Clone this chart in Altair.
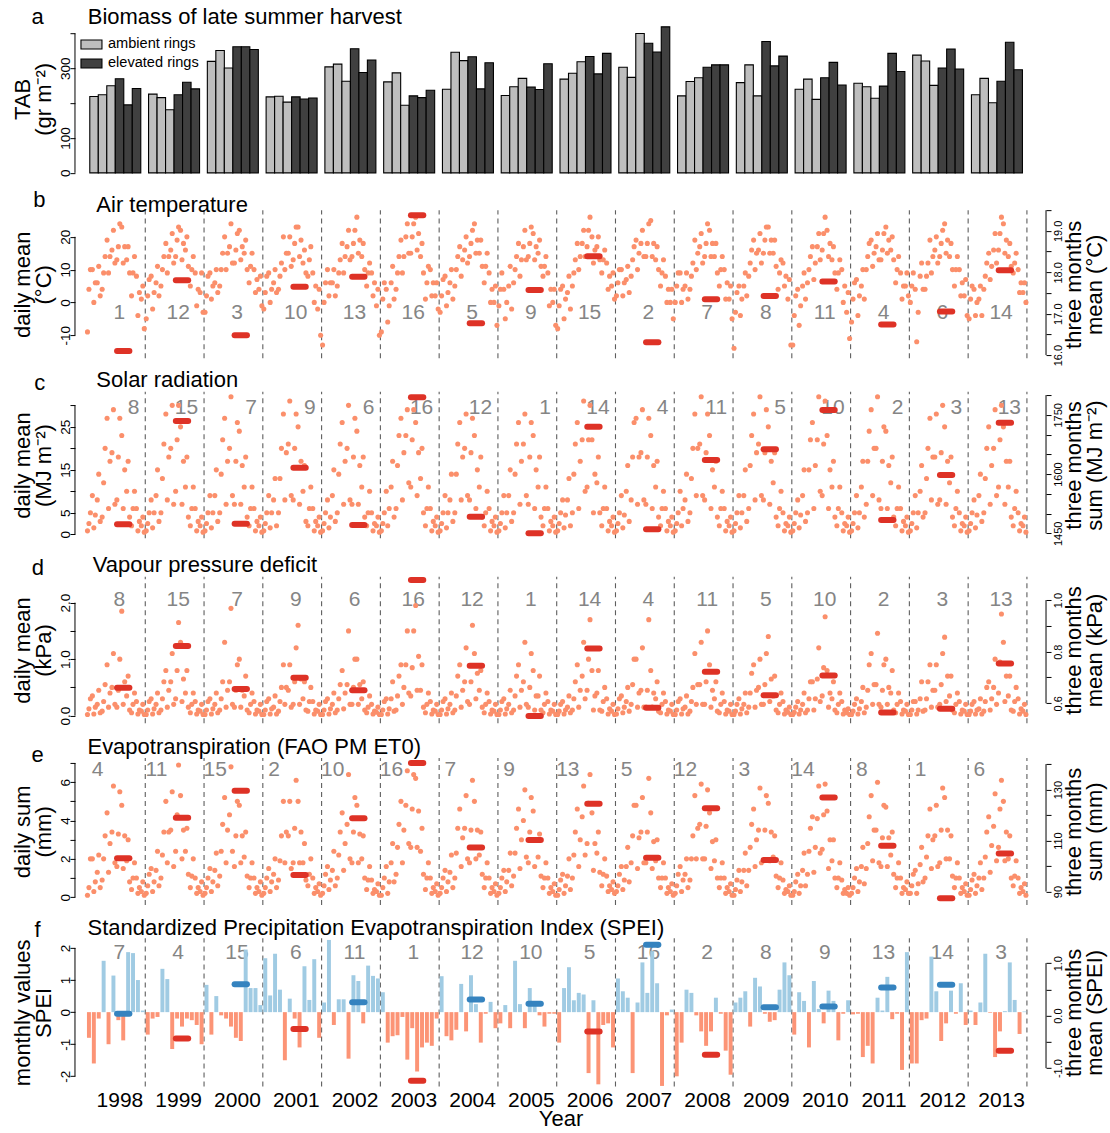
import altair as alt
import pandas as pd

FONT = "Liberation Sans"
SALMON = "#FB8F6B"
RED = "#DE3226"
BLUE = "#3583BF"
SPEI_POS = "#A0CBE3"
SPEI_NEG = "#FC9476"
RANK_GREY = "#858585"
DASH_GREY = "#5E5E5E"

YEARS = list(range(1998, 2014))

# ---------------- (a) total above-ground biomass, three rings per treatment
tab_ambient = [
    [219, 224, 250], [226, 216, 181], [320, 351, 301], [218, 220, 203],
    [304, 312, 263], [261, 287, 194], [240, 346, 322], [222, 247, 271],
    [269, 286, 319], [303, 274, 400], [221, 262, 273], [259, 310, 221],
    [240, 269, 211], [257, 247, 214], [338, 321, 251], [224, 271, 201],
]
tab_elevated = [
    [270, 195, 242], [224, 260, 241], [362, 362, 354], [218, 212, 215],
    [356, 288, 324], [221, 216, 237], [333, 241, 316], [246, 239, 313],
    [334, 284, 343], [372, 347, 419], [303, 310, 310], [377, 307, 335],
    [273, 317, 252], [249, 343, 291], [301, 355, 298], [263, 375, 296],
]

# ---------------- (b) air temperature: monthly low / mid / high of the daily means
temp_low = [
    [-9, 0, 2, 4, 9, 12, 13, 12, 9, 2, -4, -8],
    [-5, -2, 2, 5, 9, 12, 14, 13, 11, 5, -1, -3],
    [-3, 1, 3, 5, 10, 12, 12, 13, 10, 6, 3, -1],
    [-2, 0, 3, 4, 10, 11, 13, 14, 9, 8, 0, -10],
    [-13, 2, 2, 5, 9, 13, 14, 15, 10, 5, 2, -10],
    [-9, -6, 1, 4, 9, 15, 15, 16, 9, 1, 2, -2],
    [-3, -1, 1, 5, 8, 12, 14, 15, 11, 6, 0, -7],
    [-1, -5, -2, 6, 8, 13, 14, 13, 11, 8, -1, -7],
    [-8, -5, -2, 5, 10, 14, 17, 12, 13, 9, 4, 1],
    [2, 2, 3, 8, 10, 14, 14, 14, 10, 5, 0, -5],
    [0, 0, 1, 4, 10, 12, 14, 14, 9, 5, 1, -5],
    [-14, -4, 2, 8, 10, 12, 15, 15, 11, 4, 5, -13],
    [-13, -7, 1, 6, 7, 13, 16, 14, 9, 4, 0, -11],
    [-6, -4, 1, 10, 11, 13, 13, 15, 13, 6, 1, 2],
    [0, -12, 4, 4, 9, 12, 14, 15, 10, 5, 2, -4],
    [-5, -4, -4, 4, 7, 12, 16, 15, 11, 9, 3, 0],
]
temp_mid = [
    [4, 6, 6, 9, 14, 16, 17, 17, 13, 9, 3, 1],
    [2, 3, 6, 10, 14, 16, 19, 18, 16, 10, 4, 3],
    [2, 5, 6, 10, 15, 17, 16, 17, 15, 11, 7, 4],
    [3, 4, 6, 8, 15, 15, 18, 19, 12, 13, 5, -2],
    [0, 6, 6, 9, 14, 17, 18, 19, 14, 9, 6, -1],
    [1, -1, 6, 9, 14, 20, 20, 21, 14, 6, 6, 2],
    [2, 3, 6, 10, 13, 16, 18, 19, 15, 11, 4, 0],
    [4, 0, 5, 10, 13, 17, 18, 17, 15, 11, 4, 0],
    [-1, 1, 3, 9, 14, 18, 22, 16, 17, 13, 8, 5],
    [6, 6, 7, 13, 15, 18, 18, 18, 13, 9, 4, 0],
    [5, 4, 5, 8, 15, 17, 18, 18, 14, 10, 6, 1],
    [-3, 1, 5, 12, 15, 16, 19, 19, 15, 9, 8, 1],
    [-4, -1, 5, 10, 12, 17, 21, 18, 13, 9, 5, -3],
    [1, 2, 5, 14, 15, 17, 16, 19, 16, 10, 5, 5],
    [5, -3, 8, 8, 14, 16, 18, 19, 14, 10, 6, 2],
    [1, 0, 1, 8, 11, 16, 21, 19, 14, 12, 6, 3],
]
temp_high = [
    [10, 10, 11, 14, 19, 22, 24, 23, 17, 14, 8, 5],
    [7, 8, 11, 14, 18, 21, 23, 22, 20, 14, 9, 9],
    [8, 9, 10, 15, 20, 24, 21, 22, 19, 15, 10, 8],
    [8, 9, 10, 12, 20, 20, 23, 23, 16, 17, 9, 4],
    [6, 10, 10, 13, 18, 22, 22, 26, 18, 12, 9, 4],
    [6, 4, 11, 14, 19, 24, 24, 26, 18, 11, 10, 6],
    [7, 8, 10, 14, 17, 20, 22, 24, 19, 15, 9, 5],
    [9, 4, 11, 14, 18, 22, 23, 21, 19, 14, 9, 4],
    [4, 5, 8, 13, 18, 22, 26, 20, 20, 16, 12, 9],
    [10, 10, 11, 17, 19, 22, 24, 25, 17, 13, 8, 4],
    [9, 9, 9, 12, 19, 21, 24, 22, 18, 14, 10, 5],
    [3, 5, 9, 16, 19, 21, 23, 23, 19, 13, 12, 7],
    [2, 4, 9, 14, 17, 21, 26, 22, 17, 13, 10, 3],
    [6, 7, 10, 18, 19, 21, 21, 23, 20, 14, 9, 9],
    [9, 4, 12, 12, 19, 20, 22, 24, 18, 14, 10, 7],
    [5, 4, 5, 12, 15, 21, 26, 24, 18, 15, 10, 6],
]
temp_3m = [16.10, 17.81, 16.48, 17.65, 17.89, 19.38, 16.77, 17.57,
           18.39, 16.31, 17.35, 17.43, 17.78, 16.74, 17.05, 18.05]
temp_rank = [1, 12, 3, 10, 13, 16, 5, 9, 15, 2, 7, 8, 11, 4, 6, 14]

# ---------------- (c) solar radiation
solar_low = [
    [0.8, 1.5, 3, 4, 6, 7, 8, 6, 4, 2, 0.8, 0.5],
    [0.8, 1.5, 3, 5, 8, 7, 10, 7, 4, 2, 0.8, 0.5],
    [0.8, 1.5, 3, 5, 7, 9, 7, 7, 4, 2, 0.8, 0.5],
    [0.8, 1.5, 2, 5, 8, 9, 8, 7, 3, 2, 0.8, 0.5],
    [0.8, 1.5, 3, 5, 7, 8, 7, 7, 4, 2, 0.8, 0.5],
    [0.8, 2, 4, 6, 8, 12, 11, 9, 5, 2, 0.8, 0.5],
    [0.8, 1.5, 3, 5, 8, 9, 8, 6, 4, 2, 0.8, 0.5],
    [0.8, 1.5, 3, 5, 7, 9, 7, 6, 4, 2, 0.8, 0.5],
    [0.8, 1.5, 2, 5, 6, 10, 11, 5, 5, 2, 0.8, 0.5],
    [0.8, 1.5, 3, 8, 7, 8, 7, 6, 4, 2, 0.8, 0.5],
    [0.8, 2, 3, 5, 9, 9, 8, 6, 4, 2, 0.8, 0.5],
    [0.8, 1.5, 3, 6, 8, 9, 8, 7, 4, 2, 0.8, 0.5],
    [0.8, 1.5, 3, 5, 6, 10, 9, 6, 4, 2, 0.8, 0.5],
    [0.8, 1.5, 4, 7, 9, 8, 6, 6, 4, 2, 0.8, 0.5],
    [0.8, 1.5, 4, 5, 8, 7, 8, 7, 4, 2, 0.8, 0.5],
    [0.8, 1.5, 3, 5, 7, 9, 11, 7, 4, 2, 0.8, 0.5],
]
solar_mid = [
    [2.5, 4.5, 8, 12, 17, 19, 18, 15, 10, 6, 3, 2],
    [2.5, 5, 9, 13, 18, 20, 22, 17, 11, 6, 3, 2],
    [2.5, 5, 9, 14, 17, 20, 17, 16, 11, 6, 3, 2],
    [2.5, 5, 8, 13, 19, 21, 20, 17, 10, 6, 3, 2],
    [2.5, 4, 9, 14, 17, 20, 18, 16, 11, 5, 2.5, 2],
    [2.5, 6, 11, 16, 19, 23, 22, 19, 13, 6, 3, 2],
    [2.5, 5, 8, 14, 18, 20, 19, 15, 11, 5, 3, 2],
    [2.5, 5, 9, 14, 17, 21, 18, 15, 11, 6, 3, 2],
    [2.5, 4.5, 8, 14, 17, 22, 22, 14, 12, 6, 3, 2],
    [2.5, 4.5, 10, 18, 18, 19, 18, 16, 11, 6, 3, 2],
    [2.5, 6, 8, 13, 20, 21, 19, 15, 11, 6, 3, 2],
    [2.5, 5, 9, 16, 19, 21, 19, 17, 12, 6, 2.5, 2],
    [2.5, 4.5, 9, 15, 16, 22, 21, 15, 11, 6, 2.5, 2],
    [2.5, 5, 11, 17, 20, 20, 17, 16, 12, 6, 3, 2],
    [2.5, 5, 10, 13, 18, 18, 19, 17, 12, 6, 2.5, 2],
    [2.5, 4.5, 9, 13, 16, 20, 22, 17, 11, 6, 2.5, 2],
]
solar_high = [
    [5, 9, 14, 20, 27, 29, 27, 23, 17, 10, 6, 4],
    [5, 8, 15, 21, 28, 30, 30, 25, 18, 11, 6, 4],
    [5, 9, 15, 22, 27, 32, 26, 24, 18, 11, 6, 4],
    [5, 9, 13, 20, 28, 31, 28, 25, 16, 11, 6, 4],
    [5, 8, 15, 21, 26, 30, 27, 24, 18, 10, 5, 4],
    [5, 10, 17, 23, 27, 29, 29, 26, 20, 11, 6, 4],
    [5, 9, 14, 21, 26, 28, 27, 23, 18, 10, 6, 4],
    [5, 9, 15, 21, 26, 28, 26, 23, 18, 11, 6, 4],
    [5, 8, 13, 21, 26, 31, 30, 22, 18, 11, 6, 4],
    [5, 9, 16, 26, 27, 29, 27, 23, 17, 10, 6, 4],
    [5, 10, 14, 20, 28, 32, 28, 23, 17, 10, 6, 4],
    [5, 9, 15, 23, 28, 32, 29, 25, 19, 10, 5, 4],
    [5, 8, 15, 22, 26, 32, 31, 23, 17, 11, 5, 4],
    [5, 9, 17, 24, 29, 32, 25, 24, 18, 11, 6, 4],
    [5, 9, 16, 20, 27, 28, 30, 25, 18, 10, 5, 4],
    [5, 8, 14, 20, 25, 29, 30, 25, 17, 10, 5, 4],
]
solar_3m = [1472.8, 1734.3, 1474.3, 1616, 1471, 1794.3, 1492, 1450,
            1720, 1460, 1635.6, 1662.6, 1762, 1483.7, 1597.6, 1730]
solar_rank = [8, 15, 7, 9, 6, 16, 12, 1, 14, 4, 11, 5, 10, 2, 3, 13]

# ---------------- (d) vapour pressure deficit
vpd_low = [
    [.02, .03, .05, .08, .15, .2, .15, .2, .1, .05, .03, .02],
    [.02, .03, .05, .1, .15, .2, .3, .25, .15, .05, .03, .02],
    [.02, .03, .05, .1, .15, .2, .15, .15, .1, .05, .03, .02],
    [.02, .03, .03, .08, .2, .15, .2, .2, .1, .08, .03, .02],
    [.02, .03, .05, .1, .12, .2, .2, .2, .1, .05, .03, .02],
    [.02, .03, .08, .1, .2, .4, .35, .45, .15, .05, .03, .02],
    [.02, .03, .05, .1, .15, .25, .2, .3, .15, .05, .03, .02],
    [.02, .03, .05, .1, .15, .2, .15, .1, .1, .05, .03, .02],
    [.02, .03, .05, .1, .15, .3, .45, .1, .1, .08, .03, .02],
    [.03, .05, .08, .2, .15, .15, .15, .15, .08, .05, .03, .02],
    [.02, .03, .03, .08, .2, .2, .2, .15, .08, .05, .03, .02],
    [.02, .03, .05, .15, .15, .2, .2, .25, .1, .05, .03, .02],
    [.02, .03, .05, .1, .1, .25, .35, .15, .1, .05, .03, .02],
    [.02, .03, .05, .15, .2, .2, .15, .2, .1, .05, .03, .02],
    [.02, .03, .08, .1, .15, .15, .2, .25, .1, .05, .03, .02],
    [.02, .03, .03, .08, .1, .2, .4, .25, .1, .08, .03, .02],
]
vpd_mid = [
    [.12, .15, .2, .25, .4, .5, .45, .6, .35, .2, .1, .08],
    [.1, .12, .2, .3, .45, .6, .8, .65, .4, .2, .1, .08],
    [.1, .12, .2, .3, .45, .6, .45, .45, .35, .2, .1, .08],
    [.1, .12, .15, .25, .5, .45, .6, .65, .3, .25, .1, .08],
    [.1, .12, .2, .3, .4, .55, .5, .55, .3, .15, .08, .06],
    [.1, .12, .3, .35, .5, .9, .85, 1.05, .45, .2, .1, .08],
    [.1, .12, .2, .35, .45, .6, .6, .75, .45, .2, .1, .08],
    [.1, .12, .2, .35, .45, .6, .5, .35, .35, .2, .1, .08],
    [.08, .1, .15, .3, .45, .7, 1.0, .35, .4, .25, .12, .08],
    [.12, .15, .25, .55, .4, .45, .45, .4, .3, .2, .1, .08],
    [.1, .12, .15, .25, .55, .55, .6, .45, .3, .2, .1, .08],
    [.08, .12, .2, .4, .45, .5, .55, .65, .35, .2, .1, .06],
    [.06, .1, .2, .3, .3, .65, .85, .4, .3, .2, .1, .05],
    [.08, .12, .25, .45, .55, .55, .45, .5, .4, .2, .1, .08],
    [.1, .1, .3, .3, .45, .45, .55, .7, .35, .2, .1, .08],
    [.08, .1, .12, .25, .3, .5, .95, .7, .35, .25, .12, .08],
]
vpd_high = [
    [.3, .35, .45, .55, .9, 1.1, 1.0, 1.85, .7, .4, .25, .2],
    [.25, .3, .4, .6, .8, 1.1, 1.65, 1.3, .8, .4, .25, .2],
    [.25, .3, .4, .6, 1.3, 1.9, .9, 1.0, .7, .4, .25, .2],
    [.25, .3, .35, .5, .9, .9, 1.2, 1.6, .6, .5, .25, .2],
    [.25, .3, .4, .55, .8, 1.5, 1.0, 1.0, .6, .35, .2, .15],
    [.25, .3, .6, .7, .9, 1.5, 1.5, 1.95, .9, .4, .25, .2],
    [.25, .3, .4, .7, .9, 1.2, 1.6, 1.1, .8, .4, .25, .2],
    [.25, .3, .45, .7, .9, 1.3, 1.1, .8, .7, .4, .25, .2],
    [.2, .25, .35, .6, .9, 1.3, 1.7, .8, .8, .5, .3, .2],
    [.3, .35, .5, 1.0, 1.0, 1.2, 1.7, .8, .6, .4, .25, .2],
    [.25, .3, .35, .5, 1.1, 1.3, 1.5, .9, .6, .4, .25, .2],
    [.2, .3, .4, .75, .9, 1.0, 1.1, 1.4, .7, .4, .25, .15],
    [.15, .25, .4, .6, .6, 1.2, 1.75, .8, .6, .4, .25, .12],
    [.2, .3, .5, .9, 1.1, 1.46, .9, 1.0, .8, .4, .25, .2],
    [.25, .25, .6, .6, .9, .9, 1.1, 1.39, .7, .4, .25, .2],
    [.2, .25, .3, .5, .6, 1.0, 1.8, 1.3, .7, .5, .3, .2],
]
vpd_3m = [0.660, 0.822, 0.655, 0.699, 0.650, 1.078, 0.745, 0.551,
          0.812, 0.583, 0.722, 0.631, 0.708, 0.564, 0.579, 0.754]
vpd_rank = [8, 15, 7, 9, 6, 16, 12, 1, 14, 4, 11, 5, 10, 2, 3, 13]

# ---------------- (e) reference evapotranspiration
et_low = [
    [.1, .3, .5, .9, 1.3, 1.8, 1.6, 1.5, .8, .4, .2, .1],
    [.2, .3, .6, 1.0, 1.8, 1.6, 2.4, 2.0, 1.2, .5, .2, .1],
    [.2, .3, .6, 1.1, 1.8, 2.4, 1.6, 1.8, 1.1, .5, .2, .1],
    [.2, .3, .5, .9, 1.8, 1.5, 1.8, 1.8, .9, .6, .2, .1],
    [.2, .4, .6, 1.0, 1.4, 2.0, 1.8, 1.8, 1.0, .4, .2, .1],
    [.1, .2, .8, 1.2, 1.8, 2.8, 2.6, 2.6, 1.2, .4, .2, .1],
    [.2, .3, .5, 1.0, 1.6, 2.0, 1.8, 2.0, 1.2, .5, .2, .1],
    [.2, .3, .6, 1.1, 1.5, 2.1, 1.8, 1.6, 1.1, .5, .2, .1],
    [.1, .2, .4, 1.0, 1.6, 2.2, 2.8, 1.4, 1.3, .6, .3, .2],
    [.3, .4, .8, 1.8, 1.5, 1.8, 1.8, 1.5, 1.0, .5, .2, .1],
    [.2, .3, .5, .9, 2.0, 2.0, 2.0, 1.5, 1.0, .5, .2, .1],
    [.1, .3, .6, 1.4, 1.6, 1.8, 1.9, 1.9, 1.1, .5, .2, .1],
    [.1, .2, .6, 1.2, 1.3, 2.3, 2.5, 1.5, 1.0, .5, .2, .1],
    [.2, .3, .7, 1.5, 1.9, 1.8, 1.6, 1.6, 1.2, .5, .2, .2],
    [.2, .2, .8, 1.0, 1.5, 1.6, 1.8, 2.0, 1.1, .5, .2, .1],
    [.1, .2, .4, 1.0, 1.3, 1.9, 2.6, 1.9, 1.0, .6, .2, .1],
]
et_mid = [
    [.5, .8, 1.3, 2.0, 2.8, 3.4, 3.3, 3.2, 1.9, 1.0, .5, .3],
    [.6, .8, 1.4, 2.2, 3.4, 3.5, 4.3, 3.5, 2.4, 1.1, .5, .3],
    [.5, .8, 1.4, 2.4, 3.5, 4.3, 3.2, 3.2, 2.1, 1.0, .5, .3],
    [.5, .8, 1.2, 1.9, 3.4, 3.2, 3.6, 3.4, 1.8, 1.2, .5, .3],
    [.6, .9, 1.4, 2.2, 2.8, 3.8, 3.4, 3.3, 2.0, .9, .4, .3],
    [.5, .8, 1.8, 2.6, 3.5, 4.8, 4.6, 4.5, 2.4, 1.0, .5, .3],
    [.5, .8, 1.3, 2.3, 3.1, 3.6, 3.5, 3.5, 2.2, 1.0, .5, .3],
    [.5, .8, 1.4, 2.3, 3.0, 4.0, 3.4, 3.0, 2.1, 1.0, .5, .3],
    [.4, .6, 1.1, 2.2, 3.0, 4.2, 4.9, 2.8, 2.3, 1.2, .6, .4],
    [.6, .9, 1.6, 3.2, 3.1, 3.4, 3.4, 2.9, 1.9, 1.0, .5, .3],
    [.6, .9, 1.2, 2.0, 3.6, 3.8, 3.7, 2.9, 1.9, 1.0, .5, .3],
    [.4, .8, 1.4, 2.6, 3.0, 3.5, 3.5, 3.4, 2.1, 1.0, .4, .3],
    [.3, .6, 1.4, 2.4, 2.6, 4.1, 4.3, 3.0, 1.9, 1.0, .4, .2],
    [.5, .8, 1.6, 2.8, 3.5, 3.5, 3.1, 3.1, 2.2, 1.0, .5, .4],
    [.6, .7, 1.7, 2.1, 3.0, 3.2, 3.5, 3.5, 2.0, 1.0, .5, .3],
    [.4, .6, 1.0, 2.1, 2.7, 3.7, 4.6, 3.4, 2.0, 1.1, .5, .3],
]
et_high = [
    [2.0, 2.0, 2.2, 3.2, 4.4, 5.8, 5.5, 4.8, 3.0, 1.8, 1.0, .8],
    [1.2, 1.5, 2.4, 3.4, 5.0, 5.5, 6.9, 5.3, 3.6, 2.0, 1.0, .8],
    [1.0, 1.5, 2.3, 3.8, 5.2, 6.8, 5.0, 4.8, 3.4, 1.8, 1.0, .8],
    [1.0, 1.5, 2.0, 3.2, 5.0, 5.0, 6.1, 5.0, 2.8, 2.0, 1.0, .7],
    [1.2, 1.6, 2.4, 3.4, 4.4, 6.4, 5.2, 4.8, 3.2, 1.6, .9, .7],
    [1.0, 1.6, 2.8, 3.8, 5.0, 6.6, 6.4, 6.2, 3.6, 1.8, 1.0, .7],
    [1.0, 1.4, 2.2, 3.6, 4.6, 5.3, 6.1, 5.0, 3.4, 1.8, 1.0, .7],
    [1.0, 1.4, 2.3, 3.6, 4.6, 5.6, 5.2, 4.5, 3.3, 1.8, 1.0, .7],
    [.9, 1.2, 2.0, 3.4, 4.6, 5.8, 6.4, 4.4, 3.4, 2.0, 1.1, .8],
    [1.2, 1.6, 2.6, 4.8, 4.8, 5.2, 6.2, 4.4, 3.0, 1.8, 1.0, .7],
    [1.2, 1.6, 2.0, 3.2, 5.3, 5.9, 5.6, 4.4, 3.0, 1.8, 1.0, .7],
    [.9, 1.4, 2.3, 3.8, 4.6, 5.7, 5.3, 4.9, 3.2, 1.8, .9, .6],
    [.8, 1.2, 2.3, 3.6, 4.2, 5.8, 5.9, 4.5, 3.0, 1.8, .9, .5],
    [1.0, 1.5, 2.6, 4.2, 5.3, 6.0, 4.8, 4.7, 3.4, 1.8, 1.0, .8],
    [1.2, 1.4, 2.6, 3.2, 4.6, 4.8, 5.7, 5.2, 3.2, 1.8, 1.0, .7],
    [.9, 1.2, 1.8, 3.4, 4.2, 5.4, 6.1, 5.0, 3.2, 1.9, 1.0, .7],
]
et_3m = [103.1, 119.0, 129.6, 96.5, 118.8, 140.4, 107.3, 110.2,
         124.5, 103.3, 122.7, 102.4, 126.9, 108.0, 87.4, 104.9]
et_rank = [4, 11, 15, 2, 10, 16, 7, 9, 13, 5, 12, 3, 14, 8, 1, 6]

# ---------------- (f) SPEI, monthly values
spei_monthly = [
    [-0.8, -1.6, -0.2, 1.6, -1.0, 1.14, -0.25, -0.88, 1.87, 1.84, 1.0, 0.05],
    [-0.7, -0.2, -0.15, 1.35, 1.03, -1.15, -0.2, -0.45, -0.2, -0.25, -0.4, -1.0],
    [0.85, -0.7, 0.5, -0.1, -0.2, -0.45, -0.8, -0.9, 1.95, 0.75, 0.75, 0.22],
    [1.68, 0.52, 1.82, 0.7, -1.5, 0.42, -0.2, -1.1, 1.43, 0.38, 1.65, -0.8],
    [0.3, 2.25, -0.4, 0.4, 0.4, -1.45, 1.15, 0.97, -0.35, 1.45, 1.13, 1.05],
    [0.62, -0.95, -0.75, -0.72, -0.15, -1.48, -0.5, -1.85, -1.1, -0.95, -1.05, -0.2],
    [1.12, -0.75, -0.88, -0.55, 0.88, -0.6, 1.15, 0.25, -0.95, -0.05, 0.32, -0.5],
    [-0.35, 0.22, -0.5, 1.6, 0.25, -0.5, 0.75, 0.25, -0.1, -0.45, -0.05, -0.05],
    [-0.95, 0.75, 1.4, 0.37, 0.6, 0.55, -1.9, 0.37, -2.25, -0.4, -0.35, -1.1],
    [1.05, 0.65, 0.45, -1.9, 0.3, 1.55, 0.6, 1.9, 0.9, -2.3, -0.1, 0.08],
    [-2.0, -0.95, 0.7, 0.6, -0.1, -0.6, -1.05, -0.6, 0.45, -0.05, -1.2, -1.95],
    [0.3, 0.45, 0.65, -0.45, 1.07, 0.8, -0.05, -0.3, -0.25, 0.7, 1.55, 1.15],
    [-0.7, 0.62, 0.35, -1.1, 0.97, 0.1, -0.35, 0.67, 0.35, -0.88, -0.05, 0.37],
    [-0.07, -0.05, -1.4, -1.05, -1.6, 0.45, 0.05, 1.1, -0.22, -0.05, -1.8, 1.87],
    [-1.6, -1.6, -0.25, -0.2, 1.73, 0.65, -0.9, -0.35, 0.67, -0.05, 0.9, -0.4],
    [0.05, -0.4, 0.3, 1.82, -0.02, -1.4, -0.6, 0.03, 1.55, 0.38, -0.68, 0.02],
]
spei_3m = [0.034, -0.436, 0.600, -0.257, 0.257, -1.242, 0.307, 0.225,
           -0.303, 1.349, -0.747, 0.162, 0.174, 0.535, 0.587, -0.670]
spei_rank = [7, 4, 15, 6, 11, 1, 12, 10, 5, 16, 2, 8, 9, 13, 14, 3]

# ---------------- layout
W = 971.4
XS = alt.Scale(domain=[1997.804, 2014.325], nice=False, zero=False)
SEG_START, SEG_END = 0.52, 0.73


def label_expr(shown, decimals):
    parts = [f"datum.value === {v} ? '{v:.{decimals}f}'" for v in shown]
    return " : ".join(parts) + " : ''"


def y_axis(orient, ticks, shown, decimals, title, title_y, size):
    left = orient == "left"
    return alt.Axis(
        orient=orient, values=ticks, labelExpr=label_expr(shown, decimals),
        domain=False, grid=False, ticks=True, tickSize=5, tickWidth=1, tickColor="black",
        labelAngle=270, labelAlign="center",
        labelBaseline="alphabetic" if left else "top",
        labelPadding=0 if left else 1, labelFontSize=size, labelColor="black",
        labelOverlap=False, labelFlush=False,
        title=title, titleFontSize=22, titleFontWeight="normal", titleColor="black",
        titleAngle=270, titleAlign="center", titleBaseline="top",
        titleX=-62.2 if left else 17.9, titleY=title_y, titleLineHeight=21,
    )


def heading(letter, title, letter_x, letter_y, title_x, title_y):
    """Panel letter and panel heading, placed relative to the panel's plot area."""
    d = pd.DataFrame({"t": [letter]})
    h = pd.DataFrame({"t": [title]})
    a = alt.Chart(d).mark_text(font=FONT, fontSize=22, align="center", baseline="middle",
                               color="black").encode(
        x=alt.value(letter_x), y=alt.value(letter_y), text="t:N")
    b = alt.Chart(h).mark_text(font=FONT, fontSize=22, align="left", baseline="middle",
                               color="black").encode(
        x=alt.value(title_x), y=alt.value(title_y), text="t:N")
    return [a, b]


def xenc(field, xaxis):
    return alt.X(f"{field}:Q", scale=XS, axis=xaxis)


def bracket(lo, hi, scale, xpix, axis):
    df = pd.DataFrame({"lo": [lo], "hi": [hi]})
    return alt.Chart(df).mark_rule(color="black", strokeWidth=1).encode(
        x=alt.value(xpix), y=alt.Y("lo:Q", scale=scale, axis=axis), y2="hi:Q")


def year_dashes(lo, hi, scale, axis, xaxis):
    df = pd.DataFrame({"x": [y + 1 for y in YEARS], "lo": lo, "hi": hi})
    return alt.Chart(df).mark_rule(color=DASH_GREY, strokeDash=[5, 4], strokeWidth=1.1).encode(
        x=xenc("x", xaxis), y=alt.Y("lo:Q", scale=scale, axis=axis), y2="hi:Q")


def rank_labels(ranks, xoff, yval, align, scale, axis, xaxis):
    df = pd.DataFrame({"x": [y + xoff for y in YEARS], "v": yval,
                       "label": [str(r) for r in ranks]})
    return alt.Chart(df).mark_text(font=FONT, fontSize=21, color=RANK_GREY, align=align,
                                   baseline="middle").encode(
        x=xenc("x", xaxis), y=alt.Y("v:Q", scale=scale, axis=axis), text="label:N")


def daily_frame(low, mid, high):
    # three readings per month, spread over early / middle / late month
    slots = [(0.2, 0.5, 0.8), (0.5, 0.8, 0.2), (0.8, 0.2, 0.5)]
    rows = []
    for yi, yr in enumerate(YEARS):
        for m in range(12):
            for val, p in zip((low[yi][m], mid[yi][m], high[yi][m]), slots[m % 3]):
                rows.append({"x": yr + (m + p) / 12, "v": val})
    return pd.DataFrame(rows)


def three_month_layer(values, colors, scale, axis, xaxis):
    df = pd.DataFrame({"x1": [y + SEG_START for y in YEARS],
                       "x2": [y + SEG_END for y in YEARS],
                       "r": values, "c": colors})
    return alt.Chart(df).mark_rule(strokeWidth=6, strokeCap="round").encode(
        x=xenc("x1", xaxis), x2="x2:Q", y=alt.Y("r:Q", scale=scale, axis=axis),
        color=alt.Color("c:N", scale=None))


def climate_panel(cfg):
    ys = alt.Scale(domain=cfg["left_dom"], nice=False, zero=False)
    rs = alt.Scale(domain=cfg["right_dom"], nice=False, zero=False)
    la = y_axis("left", cfg["lt"], cfg["ls"], cfg["ld"], cfg["ltitle"], cfg["axis_y"], 13.5)
    ra = y_axis("right", cfg["rt"], cfg["rsh"], cfg["rd"], cfg["rtitle"], cfg["axis_y"], 11)
    points = alt.Chart(daily_frame(*cfg["daily"])).mark_circle(
        size=26, color=SALMON, opacity=1, clip=True).encode(
        x=xenc("x", None), y=alt.Y("v:Q", scale=ys, axis=la))
    left = alt.layer(
        year_dashes(*cfg["frame"], ys, la, None),
        rank_labels(cfg["rank"], cfg["rank_x"], cfg["rank_y"], cfg["rank_align"], ys, la, None),
        points,
        bracket(cfg["lt"][0], cfg["lt"][-1], ys, 0, la),
        *heading(*cfg["heading"]),
    )
    right = alt.layer(
        three_month_layer(cfg["three"], [RED] * 16, rs, ra, None),
        bracket(cfg["rt"][0], cfg["rt"][-1], rs, W, ra),
    )
    return alt.layer(left, right).resolve_scale(y="independent").properties(
        width=W, height=cfg["H"])


# ---------------- panel a
bar_rows = []
for i, yr in enumerate(YEARS):
    for j, v in enumerate(tab_ambient[i] + tab_elevated[i]):
        x1 = yr + 0.056 + 0.1446 * j
        bar_rows.append({"x1": x1, "x2": x1 + 0.1446, "v": v, "zero": 0,
                         "ring": "ambient rings" if j < 3 else "elevated rings"})
bars_df = pd.DataFrame(bar_rows)
ya = alt.Scale(domain=[-20.95, 495.5], nice=False, zero=False)
axis_a = y_axis("left", [0, 100, 200, 300, 400], [0, 100, 300], 0,
                ["TAB", "(gr m\u207b\u00b2)"], 98.7, 13.5)
bars = alt.Chart(bars_df).mark_bar(stroke="black", strokeWidth=1.1).encode(
    x=xenc("x1", None), x2="x2:Q",
    y=alt.Y("v:Q", scale=ya, axis=axis_a), y2="zero:Q",
    fill=alt.Fill("ring:N", scale=alt.Scale(domain=["ambient rings", "elevated rings"],
                                            range=["#BEBEBE", "#404040"]),
                  legend=alt.Legend(title=None, orient="none", legendX=5, legendY=35.1,
                                    direction="vertical",
                                    symbolType="M-1,-0.43H1V0.43H-1Z", symbolSize=441,
                                    symbolStrokeColor="black", symbolStrokeWidth=1.1,
                                    symbolOpacity=1, labelFontSize=14.6, labelFont=FONT,
                                    labelColor="black", labelOffset=5, clipHeight=18.4,
                                    rowPadding=0, padding=0)),
)
panel_a = alt.layer(
    bars, bracket(0, 400, ya, 0, axis_a),
    *heading("a", "Biomass of late summer harvest", -37.5, 16.7, 12.8, 16.7),
).properties(width=W, height=180)

panel_b = climate_panel(dict(
    heading=("b", "Air temperature", -35.7, 20.0, 21.4, 25.0), H=188,
    left_dom=[-20.03, 37.29], right_dom=[15.686, 20.227],
    lt=[-10, 0, 10, 20], ls=[-10, 0, 10, 20], ld=0, ltitle=["daily mean", "(\u00b0C)"],
    rt=[16, 16.5, 17, 17.5, 18, 18.5, 19, 19.5], rsh=[16, 17, 18, 19], rd=1,
    rtitle=["three months", "mean (\u00b0C)"], axis_y=104.2,
    frame=([-17.07] * 16, [28.14] * 16),
    daily=(temp_low, temp_mid, temp_high), three=temp_3m,
    rank=temp_rank, rank_x=0.56, rank_y=[-3.35] * 16, rank_align="center"))

panel_c = climate_panel(dict(
    heading=("c", "Solar radiation", -35.2, 15.3, 21.4, 12.0), H=180,
    left_dom=[-3.186, 38.67], right_dom=[1412.8, 1868.5],
    lt=[0, 5, 10, 15, 20, 25, 30], ls=[0, 5, 15, 25], ld=0,
    ltitle=["daily mean", "(MJ m\u207b\u00b2)"],
    rt=[1450, 1500, 1550, 1600, 1650, 1700, 1750, 1800], rsh=[1450, 1600, 1750], rd=0,
    rtitle=["three months", "sum (MJ m\u207b\u00b2)"], axis_y=97.0,
    frame=([-0.93] * 16, [33.16] * 16),
    daily=(solar_low, solar_mid, solar_high), three=solar_3m,
    rank=solar_rank, rank_x=0.90, rank_y=[29.3] * 16, rank_align="right"))

panel_d = climate_panel(dict(
    heading=("d", "Vapour pressure deficit", -37.2, 20.3, 17.8, 17.0), H=182,
    left_dom=[-0.2531, 2.968], right_dom=[0.4965, 1.2019],
    lt=[0, 0.5, 1, 1.5, 2], ls=[0, 1, 2], ld=1, ltitle=["daily mean", "(kPa)"],
    rt=[0.6, 0.7, 0.8, 0.9, 1.0], rsh=[0.6, 0.8, 1.0], rd=1,
    rtitle=["three months", "mean (kPa)"], axis_y=102.0,
    frame=([-0.1345] * 16, [2.46] * 16),
    daily=(vpd_low, vpd_mid, vpd_high), three=vpd_3m,
    rank=vpd_rank, rank_x=0.56, rank_y=[2.05] * 16, rank_align="center"))

panel_e = climate_panel(dict(
    heading=("e", "Evapotranspiration (FAO PM ET0)", -37.5, 25.0, 12.5, 16.7), H=180,
    left_dom=[-0.6625, 8.727], right_dom=[82.82, 153.41],
    lt=[0, 1, 2, 3, 4, 5, 6, 7], ls=[0, 2, 4, 6], ld=0, ltitle=["daily sum", "(mm)"],
    rt=[90, 100, 110, 120, 130, 140], rsh=[90, 110, 130], rd=0,
    rtitle=["three months", "sum (mm)"], axis_y=101.5,
    frame=([-0.402] * 16, [7.267] * 16),
    daily=(et_low, et_mid, et_high), three=et_3m,
    rank=et_rank, rank_x=0.19, rank_y=[6.64] * 16, rank_align="center"))

# ---------------- panel f
yf = alt.Scale(domain=[-2.318, 3.187], nice=False, zero=False)
rf = alt.Scale(domain=[-1.3505, 2.0152], nice=False, zero=False)
axis_f = y_axis("left", [-2, -1, 0, 1, 2], [-2, -1, 0, 1, 2], 0,
                ["monthly values", "SPEI"], 102.5, 13.5)
raxis_f = y_axis("right", [-1, -0.5, 0, 0.5, 1], [-1, 0, 1], 1,
                 ["three months", "mean (SPEI)"], 102.5, 11)
x_axis = alt.Axis(values=[y + 0.56 for y in YEARS], labelExpr="'' + floor(datum.value)",
                  domain=False, ticks=False, tickSize=0, labelPadding=14,
                  labelBaseline="middle", labelFontSize=21, labelColor="black",
                  labelFlush=False, labelOverlap=False, grid=False,
                  title="Year", titleFontSize=22, titleFontWeight="normal",
                  titleColor="black", titleY=32.5, titleBaseline="middle")
spei_rows = []
for i, yr in enumerate(YEARS):
    for m, v in enumerate(spei_monthly[i]):
        spei_rows.append({"x1": yr + m / 12 + 0.008, "x2": yr + (m + 1) / 12 - 0.008,
                          "v": v, "zero": 0, "c": SPEI_POS if v >= 0 else SPEI_NEG})
spei_df = pd.DataFrame(spei_rows)
spei_bars = alt.Chart(spei_df).mark_bar().encode(
    x=xenc("x1", x_axis), x2="x2:Q",
    y=alt.Y("v:Q", scale=yf, axis=axis_f), y2="zero:Q", fill=alt.Fill("c:N", scale=None))
left_f = alt.layer(
    year_dashes([-2.318] * 16, [2.305] * 16, yf, axis_f, x_axis),
    rank_labels(spei_rank, 0.56, [1.84] * 16, "center", yf, axis_f, x_axis),
    spei_bars,
    bracket(-2, 2, yf, 0, axis_f),
    *heading("f", "Standardized Precipitation Evapotranspiration Index (SPEI)",
             -37.5, 20.0, 12.5, 18.3),
)
right_f = alt.layer(
    three_month_layer(spei_3m, [BLUE if v >= 0 else RED for v in spei_3m], rf, raxis_f, x_axis),
    bracket(-1, 1, rf, W, raxis_f),
)
panel_f = alt.layer(left_f, right_f).resolve_scale(y="independent").properties(
    width=W, height=176.7)

chart = alt.vconcat(panel_a, panel_b, panel_c, panel_d, panel_e, panel_f, spacing=0).properties(
    padding={"left": 11, "top": 0, "right": 4, "bottom": 0}, background="white",
).configure_view(stroke=None).configure_axis(
    labelFont=FONT, titleFont=FONT).configure_legend(
    labelFont=FONT).configure_text(font=FONT)

chart.save("out.html", embed_options={"renderer": "svg", "actions": False})
